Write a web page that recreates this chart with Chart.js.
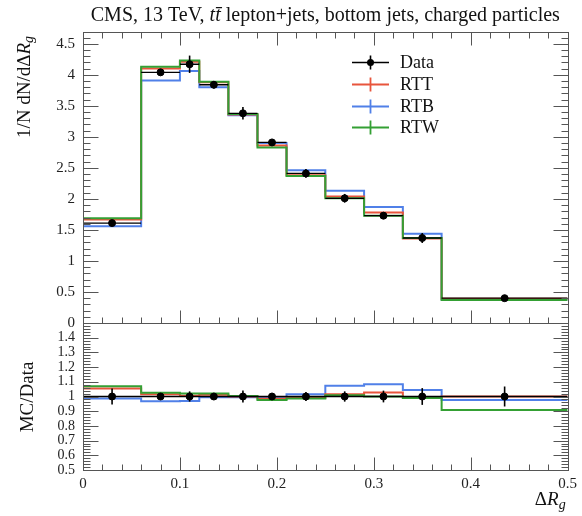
<!DOCTYPE html>
<html><head><meta charset="utf-8">
<script src="https://cdn.jsdelivr.net/npm/chart.js@4.4.1/dist/chart.umd.min.js"></script>
<style>html,body{margin:0;padding:0;background:#fff;}#wrap{width:582px;height:516px;position:relative;}</style>
</head><body><div id="wrap"><canvas id="c"></canvas></div>
<script>
const binEdges   = [0, 0.06, 0.1, 0.12, 0.15, 0.18, 0.21, 0.25, 0.29, 0.33, 0.37, 0.5];
const binCenters = [0.03, 0.08, 0.11, 0.135, 0.165, 0.195, 0.23, 0.27, 0.31, 0.35, 0.435];
const dataValues = [1.61, 4.04, 4.17, 3.84, 3.38, 2.91, 2.41, 2.01, 1.73, 1.37, 0.40];
const dataErrors = [0.03, 0.05, 0.14, 0.06, 0.10, 0.04, 0.07, 0.07, 0.05, 0.08, 0.02];
const rttValues  = [1.67, 4.10, 4.21, 3.88, 3.36, 2.86, 2.38, 2.04, 1.78, 1.36, 0.39];
const rtbValues  = [1.56, 3.91, 4.06, 3.80, 3.35, 2.90, 2.46, 2.13, 1.87, 1.44, 0.38];
const rtwValues  = [1.69, 4.13, 4.23, 3.89, 3.37, 2.83, 2.37, 2.01, 1.73, 1.37, 0.37];
const dataRatio       = [1, 1, 1, 1, 1, 1, 1, 1, 1, 1, 1];
const dataRatioErrors = [0.055, 0.015, 0.035, 0.015, 0.04, 0.02, 0.03, 0.035, 0.04, 0.057, 0.068];
const rttRatio = [1.055, 1.015, 1.005, 1.012, 1.0, 0.985, 0.99, 1.016, 1.027, 0.993, 1.0];
const rtbRatio = [0.986, 0.968, 0.97, 0.995, 0.995, 0.995, 1.016, 1.073, 1.084, 1.045, 0.977];
const rtwRatio = [1.07, 1.025, 1.02, 1.02, 1.004, 0.977, 0.986, 1.009, 1.0, 0.99, 0.908];
const xTickLabels      = [0, 0.1, 0.2, 0.3, 0.4, 0.5];
const yMainTickLabels  = [0, 0.5, 1, 1.5, 2, 2.5, 3, 3.5, 4, 4.5];
const yRatioTickLabels = [0.5, 0.6, 0.7, 0.8, 0.9, 1, 1.1, 1.2, 1.3, 1.4];
const seriesNames = ['Data', 'RTT', 'RTB', 'RTW'];

const FONT = "'Liberation Serif','DejaVu Serif',serif";
const COL = {Data:'#000000', RTT:'#e8553c', RTB:'#5080e8', RTW:'#34a034'};

function stepPts(vals){
  const p = vals.map((v,i)=>({x:binEdges[i], y:v}));
  p.push({x:binEdges[binEdges.length-1], y:vals[vals.length-1]});
  return p;
}
function barPts(vals){
  const p = [];
  vals.forEach((v,i)=>{p.push({x:binEdges[i],y:v});p.push({x:binEdges[i+1],y:v});p.push({x:binEdges[i+1],y:null});});
  return p;
}
function ptPts(vals){ return vals.map((v,i)=>({x:binCenters[i], y:v})); }

function histDS(name, vals, axis, ord){
  return {label:name, data:stepPts(vals), yAxisID:axis, stepped:'before', borderColor:COL[name],
    borderWidth:2, pointRadius:0, fill:false, order:ord};
}
const datasets = [
  {label:'Data', data:ptPts(dataValues), yAxisID:'y', showLine:false, pointRadius:3.5, pointBackgroundColor:'#000', pointBorderColor:'#000', order:0},
  {label:'DataBar', data:barPts(dataValues), yAxisID:'y', borderColor:'#000', borderWidth:1.3, pointRadius:0, spanGaps:false, order:1},
  histDS('RTW', rtwValues, 'y', 2), histDS('RTT', rttValues, 'y', 3), histDS('RTB', rtbValues, 'y', 4),
  {label:'DataR', data:ptPts(dataRatio), yAxisID:'yr', showLine:false, pointRadius:3.5, pointBackgroundColor:'#000', pointBorderColor:'#000', order:0},
  {label:'DataRBar', data:barPts(dataRatio), yAxisID:'yr', borderColor:'#000', borderWidth:1.5, pointRadius:0, spanGaps:false, order:1},
  histDS('RTW', rtwRatio, 'yr', 2), histDS('RTT', rttRatio, 'yr', 3), histDS('RTB', rtbRatio, 'yr', 4)
];

const deco = {
  id:'deco',
  afterDatasetsDraw(chart){
    const ctx = chart.ctx, x = chart.scales.x, y = chart.scales.y, yr = chart.scales.yr;
    const L = chart.chartArea.left, R = chart.chartArea.right;
    ctx.save();
    // error bars
    ctx.strokeStyle = '#000'; ctx.lineWidth = 1.6;
    binCenters.forEach((c,i)=>{
      const px = x.getPixelForValue(c);
      ctx.beginPath(); ctx.moveTo(px, y.getPixelForValue(dataValues[i]-dataErrors[i])); ctx.lineTo(px, y.getPixelForValue(dataValues[i]+dataErrors[i])); ctx.stroke();
      ctx.beginPath(); ctx.moveTo(px, yr.getPixelForValue(dataRatio[i]-dataRatioErrors[i])); ctx.lineTo(px, yr.getPixelForValue(dataRatio[i]+dataRatioErrors[i])); ctx.stroke();
    });
    // frames
    ctx.strokeStyle = '#555'; ctx.lineWidth = 1;
    const yT = Math.round(y.top)+0.5, yB = Math.round(y.bottom)+0.5, rB = Math.round(yr.bottom)+0.5;
    const l = Math.round(L)+0.5, r = Math.round(R)+0.5;
    ctx.strokeRect(l, yT, r-l, yB-yT);
    ctx.strokeRect(l, yB, r-l, rB-yB);
    // x ticks
    ctx.beginPath();
    for (let k=0;k<=25;k++){
      const v = k*0.02, px = Math.round(x.getPixelForValue(v))+0.5, len = (k%5===0)?13:6;
      ctx.moveTo(px,yT); ctx.lineTo(px,yT+len);
      ctx.moveTo(px,yB); ctx.lineTo(px,yB-len);
      ctx.moveTo(px,rB); ctx.lineTo(px,rB-len);
    }
    // y main ticks
    for (let k=0;k<=46;k++){
      const v = k*0.1; if (v>y.max) break;
      const py = Math.round(y.getPixelForValue(v))+0.5, len = (k%5===0)?15:7;
      ctx.moveTo(l,py); ctx.lineTo(l+len,py); ctx.moveTo(r,py); ctx.lineTo(r-len,py);
    }
    for (let k=25;k<=74;k++){
      const v = k*0.02;
      const py = Math.round(yr.getPixelForValue(v))+0.5, len = (k%5===0)?15:7;
      ctx.moveTo(l,py); ctx.lineTo(l+len,py); ctx.moveTo(r,py); ctx.lineTo(r-len,py);
    }
    ctx.stroke();
    // legend
    const lx0 = 352, lx1 = 389, tx = 400, rows = [62, 84, 106, 127];
    ctx.font = '18px '+FONT; ctx.textBaseline = 'middle'; ctx.fillStyle = '#111';
    seriesNames.forEach((n,i)=>{
      const ry = rows[i]+0.5;
      ctx.strokeStyle = COL[n]; ctx.lineWidth = n==='Data'?1.6:1.8;
      ctx.beginPath(); ctx.moveTo(lx0,ry); ctx.lineTo(lx1,ry);
      const cx = (lx0+lx1)/2;
      ctx.moveTo(cx, ry-7); ctx.lineTo(cx, ry+7); ctx.stroke();
      if (n==='Data'){ ctx.fillStyle='#000'; ctx.beginPath(); ctx.arc(cx, ry, 3.5, 0, Math.PI*2); ctx.fill(); }
      ctx.fillStyle = '#111'; ctx.fillText(n, tx, ry+1);
    });
    // title
    ctx.textBaseline = 'alphabetic'; ctx.textAlign = 'left';
    const parts = [['CMS, 13 TeV, ','normal'],['t','italic'],['t\u0304','italic'],[' lepton+jets, bottom jets, charged particles','normal']];
    const fs = 20;
    let tw = 0; parts.forEach(p=>{ctx.font = (p[1]==='italic'?'italic ':'')+fs+'px '+FONT; tw += ctx.measureText(p[0]).width;});
    let cx = (L+R)/2 - tw/2;
    parts.forEach(p=>{ctx.font = (p[1]==='italic'?'italic ':'')+fs+'px '+FONT; ctx.fillText(p[0], cx, 21); cx += ctx.measureText(p[0]).width;});
    // y title main
    function richWidth(segs){ let w=0; segs.forEach(s=>{ctx.font=s[1]; w+=ctx.measureText(s[0]).width;}); return w; }
    const segY = [['1/N dN/d\u0394', '19px '+FONT, 0], ['R', 'italic 19px '+FONT, 0], ['g', 'italic 14px '+FONT, 4]];
    ctx.save(); ctx.translate(25, 36); ctx.rotate(-Math.PI/2);
    let w = richWidth(segY), px = -w; ctx.textBaseline = 'middle';
    segY.forEach(s=>{ctx.font=s[1]; ctx.fillText(s[0], px, s[2]); px += ctx.measureText(s[0]).width;});
    ctx.restore();
    // ratio title
    ctx.save(); ctx.translate(28, 397); ctx.rotate(-Math.PI/2); ctx.font='19px '+FONT; ctx.textAlign='center'; ctx.textBaseline='middle';
    ctx.fillText('MC/Data', 0, 0); ctx.restore();
    // x title
    const segX = [['\u0394', '19px '+FONT, 0], ['R', 'italic 19px '+FONT, 0], ['g', 'italic 14px '+FONT, 4]];
    w = richWidth(segX); px = R - 2 - w; ctx.textBaseline='alphabetic';
    segX.forEach(s=>{ctx.font=s[1]; ctx.fillText(s[0], px, 505+s[2]); px += ctx.measureText(s[0]).width;});
    ctx.restore();
  }
};

const tickFont = {family:FONT, size:15};
new Chart(document.getElementById('c'), {
  type:'line',
  data:{datasets},
  options:{
    responsive:true, maintainAspectRatio:false, animation:false,
    layout:{padding:{top:32, right:13, left:0, bottom:0}},
    plugins:{legend:{display:false}, tooltip:{enabled:false}},
    scales:{
      x:{type:'linear', min:0, max:0.5,
        afterBuildTicks:s=>{s.ticks = xTickLabels.map(v=>({value:v}));},
        afterFit:s=>{s.height = 46;},
        grid:{display:false, drawTicks:false}, border:{display:false},
        ticks:{autoSkip:false, maxRotation:0, padding:5, color:'#222', font:tickFont, callback:v=>String(v)}},
      yr:{type:'linear', position:'left', stack:'p', stackWeight:147, min:0.5, max:1.5,
        afterBuildTicks:s=>{s.ticks = yRatioTickLabels.map(v=>({value:v}));},
        afterFit:s=>{s.width = 83;},
        grid:{display:false, drawTicks:false}, border:{display:false},
        ticks:{autoSkip:false, padding:8, color:'#222', font:{family:FONT, size:14}, callback:v=>String(v)}},
      y:{type:'linear', position:'left', stack:'p', stackWeight:291, min:0, max:4.69,
        afterBuildTicks:s=>{s.ticks = yMainTickLabels.map(v=>({value:v}));},
        afterFit:s=>{s.width = 83;},
        grid:{display:false, drawTicks:false}, border:{display:false},
        ticks:{autoSkip:false, padding:8, color:'#222', font:tickFont, callback:v=>String(v)}}
    }
  },
  plugins:[deco]
});
</script></body></html>
